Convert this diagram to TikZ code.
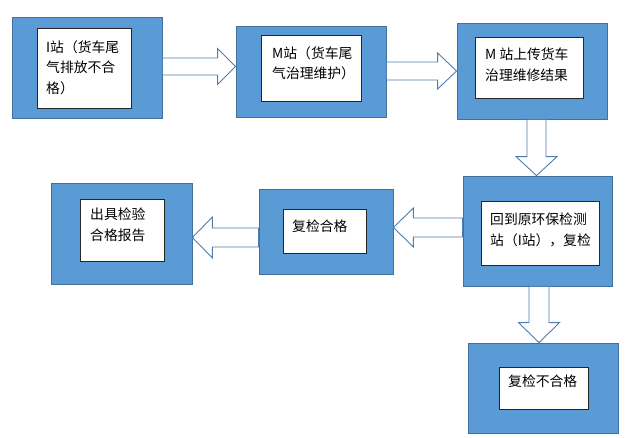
\documentclass[tikz,border=0pt]{standalone}
\usepackage{fontspec}
\setmainfont{Noto Sans CJK SC}
\usetikzlibrary{calc}
\definecolor{boxblue}{HTML}{5B9BD5}
\definecolor{boxedge}{HTML}{41719C}
\definecolor{arredge}{HTML}{4F7EAE}
\tikzset{
  outerbox/.style={draw=boxedge, line width=0.8pt, fill=boxblue, inner sep=0pt},
  innerbox/.style={draw=black!85, line width=1pt, fill=white, inner sep=0pt},
  txt/.style={font=\fontsize{13.8pt}{20.5pt}\selectfont, align=left, inner sep=0pt, anchor=north west},
  blockarrow/.style={draw=arredge, line width=0.9pt, fill=white, line join=miter}
}
% #1 start, #2 tip, #3 shaft half width, #4 head half width, #5 head length
\newcommand{\blockarr}[5]{%
  \coordinate (#1-#2-hb) at ($(#2)!#5pt!(#1)$);
  \draw[blockarrow] ($(#1)!#3pt!90:(#2)$) -- ($(#1-#2-hb)!#3pt!90:(#2)$)
    -- ($(#1-#2-hb)!#4pt!90:(#2)$) -- (#2)
    -- ($(#1-#2-hb)!#4pt!-90:(#2)$) -- ($(#1-#2-hb)!#3pt!-90:(#2)$)
    -- ($(#1)!#3pt!-90:(#2)$) -- cycle;}
\begin{document}
\begin{tikzpicture}[x=1pt,y=-1pt]
\useasboundingbox (0,0) rectangle (640,438);
% outer boxes
\node[outerbox, minimum width=150pt, minimum height=101pt] (o1) at (87,67.5) {};
\node[outerbox, minimum width=150pt, minimum height=91pt] (o2) at (311,71.5) {};
\node[outerbox, minimum width=150pt, minimum height=96pt] (o3) at (532,71) {};
\node[outerbox, minimum width=149pt, minimum height=110pt] (o4) at (537.5,231) {};
\node[outerbox, minimum width=134pt, minimum height=85pt] (o5) at (326,231.5) {};
\node[outerbox, minimum width=141pt, minimum height=101pt] (o6) at (121.5,233.5) {};
\node[outerbox, minimum width=150pt, minimum height=90pt] (o7) at (543,388) {};
% inner boxes
\node[innerbox, minimum width=94pt, minimum height=80pt] (i1) at (84,69) {};
\node[innerbox, minimum width=100pt, minimum height=66pt] (i2) at (311,69) {};
\node[innerbox, minimum width=108pt, minimum height=61pt] (i3) at (529,68.5) {};
\node[innerbox, minimum width=118pt, minimum height=64pt] (i4) at (540,234) {};
\node[innerbox, minimum width=83pt, minimum height=44pt] (i5) at (324.5,232) {};
\node[innerbox, minimum width=84pt, minimum height=62pt] (i6) at (122,231) {};
\node[innerbox, minimum width=89pt, minimum height=42pt] (i7) at (543.5,388) {};
% texts
\node[txt] (t1) at (46,40) {I站（货车尾\\气排放不合\\格）};
\node[txt] (t2) at (272,46) {M站（货车尾\\气治理维护）};
\node[txt] (t3) at (485,48) {M 站上传货车\\治理维修结果};
\node[txt] (t4) at (490,213) {回到原环保检测\\站（I站），复检};
\node[txt] (t5) at (292,220) {复检合格};
\node[txt] (t6) at (90,208) {出具检验\\合格报告};
\node[txt] (t7) at (508,375) {复检不合格};
% arrow end coordinates
\coordinate (a1s) at (o1.east |- 0,66.5);
\coordinate (a1e) at (o2.west |- 0,66.5);
\coordinate (a2s) at (o2.east |- 0,71);
\coordinate (a2e) at (o3.west |- 0,71);
\coordinate (a3s) at (o3.south -| 536.5,0);
\coordinate (a3e) at (o4.north -| 536.5,0);
\coordinate (a4s) at (o4.west |- 0,227.5);
\coordinate (a4e) at (o5.east |- 0,227.5);
\coordinate (a5s) at (o5.west |- 0,237.5);
\coordinate (a5e) at (o6.east |- 0,237.5);
\coordinate (a6s) at (o4.south -| 539,0);
\coordinate (a6e) at (o7.north -| 539,0);
\blockarr{a1s}{a1e}{8.5}{18}{18}
\blockarr{a2s}{a2e}{9}{18}{19}
\blockarr{a3s}{a3e}{9.5}{20.5}{19}
\blockarr{a4s}{a4e}{9.5}{19.5}{20}
\blockarr{a5s}{a5e}{9.5}{20.5}{20}
\blockarr{a6s}{a6e}{10}{20.5}{20}
\end{tikzpicture}
\end{document}
